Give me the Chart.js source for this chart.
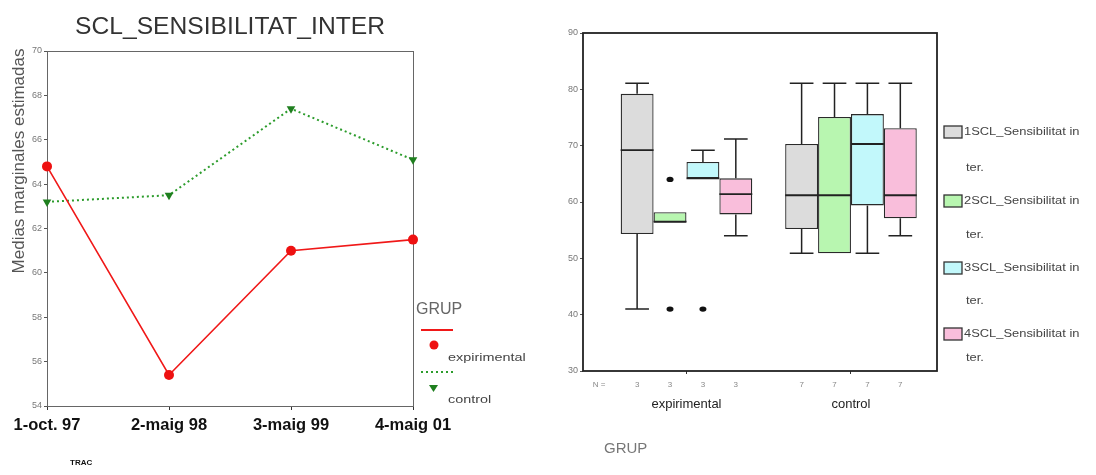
<!DOCTYPE html>
<html><head><meta charset="utf-8">
<script src="https://cdn.jsdelivr.net/npm/chart.js@4.4.1/dist/chart.umd.min.js"></script>
<style>
html,body{margin:0;padding:0;background:#fff;width:1096px;height:475px;overflow:hidden}
canvas{position:absolute;top:0}
#c1{left:0}
#c2{left:540px}
</style></head>
<body>
<canvas id="c1" width="540" height="475"></canvas>
<canvas id="c2" width="556" height="475"></canvas>
<script>
// ---------- data: left chart (estimated marginal means) ----------
const lineTitle = 'SCL_SENSIBILITAT_INTER';
const lineYTitle = 'Medias marginales estimadas';
const lineLegendTitle = 'GRUP';
const traceLabel = 'TRAC';
const lineCategories = ['1-oct. 97', '2-maig 98', '3-maig 99', '4-maig 01'];
const expirimentalMeans = [64.8, 55.4, 61.0, 61.5];
const controlMeans = [63.2, 63.5, 67.4, 65.1];
const lineYMin = 54, lineYMax = 70, lineYStep = 2;

// ---------- data: right chart (box plots) ----------
const groupNames = ['expirimental', 'control'];
const groupCounts = ['3', '7'];
const boxSeriesNames = ['1SCL_Sensibilitat in', '2SCL_Sensibilitat in', '3SCL_Sensibilitat in', '4SCL_Sensibilitat in'];
const boxSeriesSuffix = 'ter.';
// one value per group: [expirimental, control]
const s1Low = [41.0, 50.9], s1Q1 = [54.3, 55.2], s1Median = [69.2, 61.2], s1Q3 = [79.2, 70.3], s1High = [81.1, 81.1];
const s2Low = [56.3, 50.9], s2Q1 = [56.3, 50.9], s2Median = [56.5, 61.2], s2Q3 = [58.2, 75.1], s2High = [58.2, 81.1];
const s3Low = [64.2, 50.9], s3Q1 = [64.2, 59.4], s3Median = [64.2, 70.3], s3Q3 = [67.1, 75.6], s3High = [69.2, 81.1];
const s4Low = [54.0, 54.0], s4Q1 = [57.8, 57.1], s4Median = [61.4, 61.2], s4Q3 = [64.2, 73.1], s4High = [71.2, 81.1];
const s1Outliers = [[], []];
const s2Outliers = [[41.0, 64.0], []];
const s3Outliers = [[41.0], []];
const s4Outliers = [[], []];
const boxYMin = 30, boxYMax = 90, boxYStep = 10;
const boxXAxisTitle = 'GRUP';

const FONT = "'Liberation Sans', Arial, sans-serif";

function wideText(ctx, text, x, y, sx) {
  ctx.save();
  ctx.translate(x, y);
  ctx.scale(sx, 1);
  ctx.fillText(text, 0, 0);
  ctx.restore();
}

// ---------- left chart ----------
const leftDecor = {
  id: 'leftDecor',
  beforeDatasetsDraw(chart) {
    const {ctx, chartArea: a} = chart;
    ctx.save();
    ctx.strokeStyle = '#666';
    ctx.lineWidth = 1;
    ctx.strokeRect(a.left + 0.5, a.top + 0.5, a.right - a.left, a.bottom - a.top);
    ctx.restore();
  },
  afterDraw(chart) {
    const {ctx} = chart;
    ctx.save();
    // title
    ctx.fillStyle = '#333';
    ctx.font = '23px ' + FONT;
    ctx.textAlign = 'center';
    ctx.textBaseline = 'middle';
    const tw = ctx.measureText(lineTitle).width;
    wideText(ctx, lineTitle, 230, 28, 310 / tw);
    // y title
    ctx.save();
    ctx.translate(19, 161);
    ctx.rotate(-Math.PI / 2);
    ctx.fillStyle = '#555';
    ctx.font = '17px ' + FONT;
    ctx.fillText(lineYTitle, 0, 0);
    ctx.restore();
    // legend
    const d0 = chart.data.datasets[0], d1 = chart.data.datasets[1];
    ctx.textAlign = 'left';
    ctx.fillStyle = '#666';
    ctx.font = '16px ' + FONT;
    ctx.fillText(lineLegendTitle, 416, 310);
    ctx.strokeStyle = d0.borderColor; ctx.lineWidth = 2;
    ctx.beginPath(); ctx.moveTo(421, 330); ctx.lineTo(453, 330); ctx.stroke();
    ctx.fillStyle = d0.pointBackgroundColor;
    ctx.beginPath(); ctx.arc(434, 345, 4.5, 0, Math.PI * 2); ctx.fill();
    ctx.fillStyle = '#444'; ctx.font = '10px ' + FONT;
    wideText(ctx, d0.label, 448, 358, 1.44);
    ctx.strokeStyle = d1.borderColor; ctx.lineWidth = 2; ctx.setLineDash([2, 3]);
    ctx.beginPath(); ctx.moveTo(421, 372); ctx.lineTo(453, 372); ctx.stroke();
    ctx.setLineDash([]);
    ctx.fillStyle = d1.pointBackgroundColor;
    ctx.beginPath(); ctx.moveTo(429, 385); ctx.lineTo(438, 385); ctx.lineTo(433.5, 392); ctx.closePath(); ctx.fill();
    ctx.fillStyle = '#444'; ctx.font = '10px ' + FONT;
    wideText(ctx, d1.label, 448, 400, 1.44);
    // TRAC
    ctx.fillStyle = '#111';
    ctx.font = 'bold 8px ' + FONT;
    ctx.fillText(traceLabel, 70, 463);
    ctx.restore();
  }
};

new Chart(document.getElementById('c1'), {
  type: 'line',
  data: {
    labels: lineCategories,
    datasets: [
      {label: groupNames[0], data: expirimentalMeans, borderColor: '#f01818', backgroundColor: '#ee1111',
       borderWidth: 1.6, pointRadius: 5, pointBorderWidth: 0, pointBackgroundColor: '#ee1111', tension: 0, clip: false},
      {label: groupNames[1], data: controlMeans, borderColor: '#2c9c2c', backgroundColor: '#1f7f1f', borderDash: [2, 3],
       borderWidth: 2, pointStyle: 'triangle', rotation: 180, pointRadius: 5, pointBorderWidth: 0,
       pointBackgroundColor: '#1f7f1f', tension: 0, clip: false}
    ]
  },
  options: {
    responsive: false, animation: false, events: [],
    layout: {padding: {left: 0, right: 127, top: 51, bottom: 39}},
    plugins: {legend: {display: false}, tooltip: {enabled: false}, title: {display: false}},
    scales: {
      x: {
        type: 'category', offset: false,
        afterFit(s) { s.height = 30; },
        grid: {display: true, drawOnChartArea: false, drawTicks: true, tickLength: 4, color: '#333'},
        border: {display: false},
        ticks: {color: '#111', font: {family: FONT, size: 16.5, weight: 'bold'}, padding: 6, maxRotation: 0, autoSkip: false}
      },
      y: {
        min: lineYMin, max: lineYMax,
        afterFit(s) { s.width = 47; },
        grid: {drawOnChartArea: false, tickLength: 3, color: '#555'},
        border: {display: false},
        ticks: {stepSize: lineYStep, color: '#777', font: {family: FONT, size: 9}, padding: 2}
      }
    }
  },
  plugins: [leftDecor]
});

// ---------- right chart ----------
const boxLows = [s1Low, s2Low, s3Low, s4Low];
const boxQ1s = [s1Q1, s2Q1, s3Q1, s4Q1];
const boxMedians = [s1Median, s2Median, s3Median, s4Median];
const boxQ3s = [s1Q3, s2Q3, s3Q3, s4Q3];
const boxHighs = [s1High, s2High, s3High, s4High];
const boxOutliers = [s1Outliers, s2Outliers, s3Outliers, s4Outliers];
const boxFills = ['#dcdcdc', '#b8f6b0', '#c2f8fb', '#f9bedb'];

const boxDecor = {
  id: 'boxDecor',
  beforeDatasetsDraw(chart) {
    const {ctx, chartArea: a} = chart;
    ctx.save();
    ctx.strokeStyle = '#222';
    ctx.lineWidth = 1.8;
    ctx.strokeRect(a.left, a.top, a.right - a.left, a.bottom - a.top);
    ctx.restore();
  },
  afterDatasetsDraw(chart) {
    const {ctx} = chart;
    const y = chart.scales.y;
    ctx.save();
    ctx.strokeStyle = '#222';
    chart.data.datasets.forEach((ds, i) => {
      const meta = chart.getDatasetMeta(i);
      meta.data.forEach((el, j) => {
        const x = el.x, w = el.width, cap = w * 0.72;
        const pMed = y.getPixelForValue(boxMedians[i][j]);
        const pQ1 = y.getPixelForValue(boxQ1s[i][j]);
        const pQ3 = y.getPixelForValue(boxQ3s[i][j]);
        const pLo = y.getPixelForValue(boxLows[i][j]);
        const pHi = y.getPixelForValue(boxHighs[i][j]);
        ctx.lineWidth = 1.8;
        ctx.beginPath(); ctx.moveTo(x - w / 2, pMed); ctx.lineTo(x + w / 2, pMed); ctx.stroke();
        ctx.lineWidth = 1.5;
        if (pHi < pQ3 - 0.5) {
          ctx.beginPath(); ctx.moveTo(x, pQ3); ctx.lineTo(x, pHi);
          ctx.moveTo(x - cap / 2, pHi); ctx.lineTo(x + cap / 2, pHi); ctx.stroke();
        }
        if (pLo > pQ1 + 0.5) {
          ctx.beginPath(); ctx.moveTo(x, pQ1); ctx.lineTo(x, pLo);
          ctx.moveTo(x - cap / 2, pLo); ctx.lineTo(x + cap / 2, pLo); ctx.stroke();
        }
        boxOutliers[i][j].forEach(v => {
          const py = y.getPixelForValue(v);
          ctx.fillStyle = '#111';
          ctx.beginPath(); ctx.ellipse(x, py, 3.5, 2.6, 0, 0, Math.PI * 2); ctx.fill();
        });
        // counts row
        ctx.fillStyle = '#888';
        ctx.font = '8px ' + FONT;
        ctx.textAlign = 'center';
        ctx.textBaseline = 'middle';
        ctx.fillText(groupCounts[j], x, 385);
      });
    });
    ctx.fillStyle = '#888';
    ctx.font = '8px ' + FONT;
    ctx.textAlign = 'center';
    ctx.textBaseline = 'middle';
    ctx.fillText('N =', 59, 385);
    ctx.restore();
  },
  afterDraw(chart) {
    const {ctx} = chart;
    ctx.save();
    ctx.fillStyle = '#777';
    ctx.font = '15px ' + FONT;
    ctx.textAlign = 'left';
    ctx.textBaseline = 'middle';
    ctx.fillText(boxXAxisTitle, 64, 449);
    // legend
    const tops = [132, 201, 268, 334];
    const sub = [36, 34, 33, 24];
    chart.data.datasets.forEach((ds, i) => {
      const cy = tops[i];
      ctx.fillStyle = ds.backgroundColor;
      ctx.fillRect(404, cy - 6, 18, 12);
      ctx.strokeStyle = '#333'; ctx.lineWidth = 1.3;
      ctx.strokeRect(404, cy - 6, 18, 12);
      ctx.fillStyle = '#444';
      ctx.font = '10px ' + FONT;
      wideText(ctx, ds.label, 424, cy, 1.29);
      wideText(ctx, boxSeriesSuffix, 426, cy + sub[i], 1.29);
    });
    ctx.restore();
  }
};

new Chart(document.getElementById('c2'), {
  type: 'bar',
  data: {
    datasets: boxSeriesNames.map((name, i) => ({
      label: name,
      data: groupNames.map((g, j) => ({x: j, y: [boxQ1s[i][j], boxQ3s[i][j]]})),
      backgroundColor: boxFills[i],
      borderColor: '#2a2a2a',
      borderWidth: 1.3,
      borderSkipped: false,
      categoryPercentage: 0.8,
      barPercentage: 1
    }))
  },
  options: {
    responsive: false, animation: false, events: [],
    layout: {padding: {left: 0, right: 159, top: 33, bottom: 64}},
    plugins: {legend: {display: false}, tooltip: {enabled: false}, title: {display: false}},
    scales: {
      x: {
        type: 'linear', min: -0.629, max: 1.523, offset: false,
        afterBuildTicks(s) { s.ticks = groupNames.map((g, j) => ({value: j})); },
        afterFit(s) { s.height = 40; },
        grid: {offset: false, drawOnChartArea: false, tickLength: 3, color: '#333'},
        border: {display: false},
        ticks: {callback: (v) => groupNames[v], color: '#222', font: {family: FONT, size: 13}, padding: 23, maxRotation: 0, autoSkip: false}
      },
      y: {
        min: boxYMin, max: boxYMax,
        afterFit(s) { s.width = 43; },
        grid: {drawOnChartArea: false, tickLength: 3, color: '#555'},
        border: {display: false},
        ticks: {stepSize: boxYStep, color: '#777', font: {family: FONT, size: 9}, padding: 2}
      }
    }
  },
  plugins: [boxDecor]
});
</script>
</body></html>
